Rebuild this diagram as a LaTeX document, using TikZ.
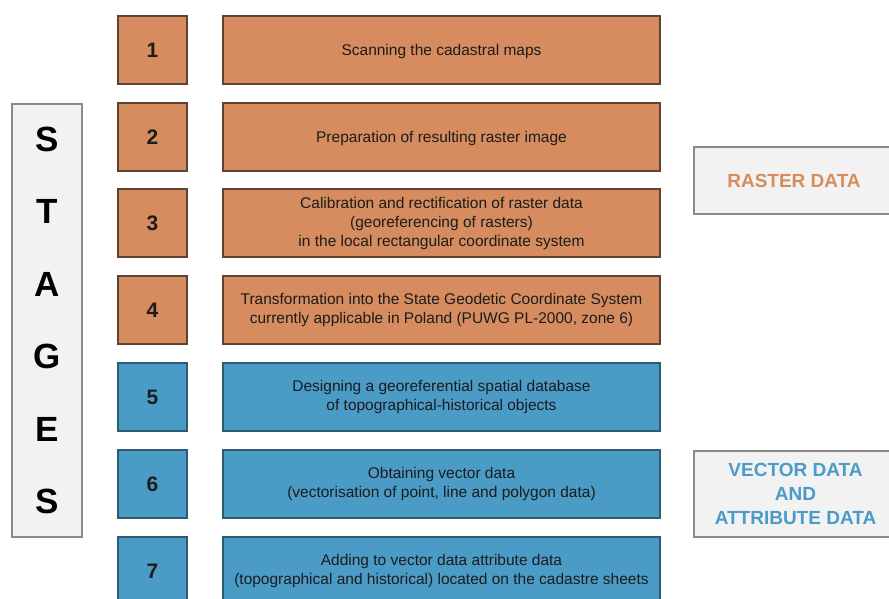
\documentclass[tikz,border=0pt]{standalone}
\usepackage{fontspec}
\setmainfont{Liberation Sans}
\definecolor{rasterfill}{HTML}{D68C5E}
\definecolor{rasterline}{HTML}{5E4232}
\definecolor{vectorfill}{HTML}{4B9BC7}
\definecolor{vectorline}{HTML}{2E5A74}
\definecolor{panelfill}{HTML}{F2F2F2}
\definecolor{panelline}{HTML}{8A8A8A}
\definecolor{bodytext}{HTML}{1C1C1C}
\begin{document}
\begin{tikzpicture}[x=1pt,y=-1pt,
  box/.style={rectangle,inner sep=0pt,line width=1.2pt,align=center,text=bodytext},
  numbox/.style={box,minimum width=69pt,minimum height=68pt,font=\fontsize{21}{24}\selectfont\bfseries},
  textbox/.style={box,minimum width=437pt,minimum height=68pt,font=\fontsize{15.5}{19}\selectfont,
    execute at begin node={\rule{0pt}{15pt}}},
  raster/.style={fill=rasterfill,draw=rasterline},
  vector/.style={fill=vectorfill,draw=vectorline},
  panel/.style={rectangle,inner sep=0pt,line width=1.2pt,align=center,fill=panelfill,draw=panelline}]
  \clip (0,0) rectangle (889,599);
  \fill[white] (0,0) rectangle (889,599);

  % stage labels
  \node[panel,minimum width=70pt,minimum height=433pt,
        font=\fontsize{35}{72.5}\selectfont\bfseries] (stages) at (47,320.5)
        {S\\T\\A\\G\\E\\S};

  % stage numbers
  \node[numbox,raster] (n1) at (152.5,50) {1};
  \node[numbox,raster] (n2) at (152.5,137) {2};
  \node[numbox,raster] (n3) at (152.5,223) {3};
  \node[numbox,raster] (n4) at (152.5,310) {4};
  \node[numbox,vector] (n5) at (152.5,397) {5};
  \node[numbox,vector] (n6) at (152.5,484) {6};
  \node[numbox,vector] (n7) at (152.5,571) {7};

  % stage descriptions
  \node[textbox,raster] (t1) at (441.5,50) {Scanning the cadastral maps};
  \node[textbox,raster] (t2) at (441.5,137) {Preparation of resulting raster image};
  \node[textbox,raster] (t3) at (441.5,223) {Calibration and rectification of raster data\\(georeferencing of rasters)\\in the local rectangular coordinate system};
  \node[textbox,raster] (t4) at (441.5,310) {Transformation into the State Geodetic Coordinate System\\currently applicable in Poland (PUWG PL-2000, zone 6)};
  \node[textbox,vector] (t5) at (441.5,397) {Designing a georeferential spatial database\\of topographical-historical objects};
  \node[textbox,vector] (t6) at (441.5,484) {Obtaining vector data\\(vectorisation of point, line and polygon data)};
  \node[textbox,vector] (t7) at (441.5,571) {Adding to vector data attribute data\\(topographical and historical) located on the cadastre sheets};

  % data groups
  \node[panel,minimum width=200pt,minimum height=67pt,text=rasterfill,
        font=\fontsize{19}{24}\selectfont\bfseries] (rasterdata) at (794,180.5) {RASTER DATA};
  \node[panel,minimum width=203pt,minimum height=86pt,text=vectorfill,
        font=\fontsize{19}{24}\selectfont\bfseries] (vectordata) at (795.5,494) {VECTOR DATA\\AND\\ATTRIBUTE DATA};
\end{tikzpicture}
\end{document}
